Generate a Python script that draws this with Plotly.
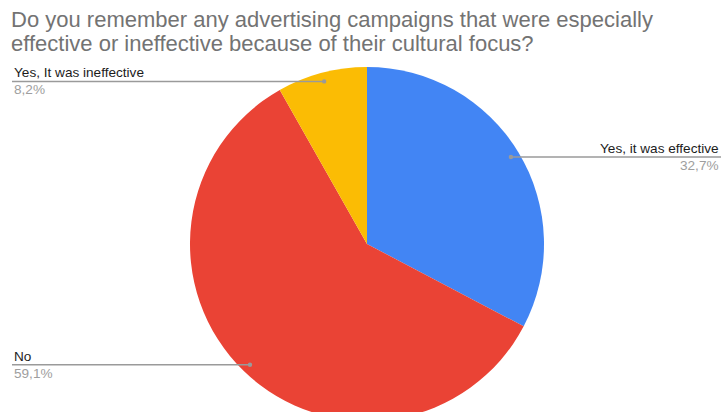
import math
import plotly.graph_objects as go

# Survey answers (clockwise from 12 o'clock) and their shares in percent
labels = ["Yes, it was effective", "No", "Yes, It was ineffective"]
shares = [32.7, 59.1, 8.2]
share_text = ["32,7%", "59,1%", "8,2%"]
colors = ["#4285F4", "#EA4335", "#FBBC04"]
label_side = ["right", "left", "left"]

title_lines = [
    "Do you remember any advertising campaigns that were especially",
    "effective or ineffective because of their cultural focus?",
]

# Canvas and pie geometry in pixels (taller than the view so the pie bottom overflows)
W, H = 723, 440
CX, CY, R = 367, 244, 177
DOT_R = 0.95 * R
LEFT_X, RIGHT_X = 12, 721
FONT = "Liberation Sans, Arial, sans-serif"


def px(x):
    return x / W


def py(y):
    return 1 - y / H


fig = go.Figure(
    go.Pie(
        labels=labels,
        values=shares,
        sort=False,
        direction="clockwise",
        rotation=0,
        marker=dict(colors=colors, line=dict(width=0)),
        textinfo="none",
        hoverinfo="label+percent",
        showlegend=False,
        domain=dict(x=[px(CX - R), px(CX + R)], y=[py(CY + R), py(CY - R)]),
    )
)

shapes = []
annotations = []

# Leader lines from each slice's mid-angle to its label
total = sum(shares)
cum = 0.0
for lab, val, txt, side in zip(labels, shares, share_text, label_side):
    mid = (cum + val / 2) / total * 2 * math.pi
    cum += val
    dx = CX + DOT_R * math.sin(mid)
    dy = CY - DOT_R * math.cos(mid)
    end_x = RIGHT_X if side == "right" else LEFT_X
    shapes.append(dict(
        type="line", xref="paper", yref="paper",
        x0=px(dx), y0=py(dy), x1=px(end_x), y1=py(dy),
        line=dict(color="#9a9a9a", width=1.5),
    ))
    shapes.append(dict(
        type="circle", xref="paper", yref="paper",
        x0=px(dx - 2.2), x1=px(dx + 2.2), y0=py(dy + 2.2), y1=py(dy - 2.2),
        fillcolor="#9a9a9a", line=dict(width=0),
    ))
    anchor = "right" if side == "right" else "left"
    annotations.append(dict(
        x=px(end_x), y=py(dy), xref="paper", yref="paper",
        text=lab, showarrow=False, xanchor=anchor, yanchor="bottom",
        yshift=-1, font=dict(family=FONT, size=13.6, color="#1c1c1c"),
    ))
    annotations.append(dict(
        x=px(end_x), y=py(dy), xref="paper", yref="paper",
        text=txt, showarrow=False, xanchor=anchor, yanchor="top",
        yshift=1, font=dict(family=FONT, size=13.6, color="#9e9e9e"),
    ))

# Two-line title, set tight like the sheet's chart heading
for i, line in enumerate(title_lines):
    annotations.append(dict(
        x=px(9), y=py(5 + 24 * i), xref="paper", yref="paper",
        text=line, showarrow=False, xanchor="left", yanchor="top",
        font=dict(family=FONT, size=22, color="#737373"),
    ))

fig.update_layout(
    width=W, height=H,
    margin=dict(l=0, r=0, t=0, b=0),
    paper_bgcolor="white",
    plot_bgcolor="white",
    shapes=shapes,
    annotations=annotations,
)

fig.write_html(
    "out.html",
    post_script="document.body.style.margin='0';document.body.style.overflow='hidden';",
)
